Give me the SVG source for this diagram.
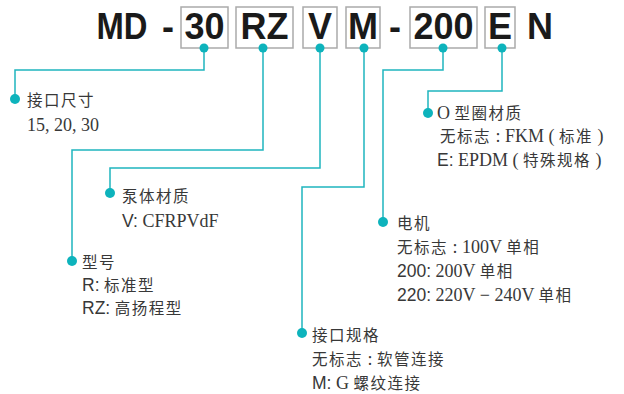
<svg xmlns="http://www.w3.org/2000/svg" width="624" height="394" viewBox="0 0 624 394">
<style>
.box{fill:none;stroke:#aaaaaa;stroke-width:1.5}
.code{font-family:"Liberation Sans",Arial,sans-serif;font-weight:bold;font-size:36px;fill:#1a1a1a;text-anchor:middle}
.ln{fill:none;stroke:#1fb5be;stroke-width:1.5}
.dot{fill:#0db3bc}
.t{font-family:"Liberation Serif","Noto Sans CJK SC",serif;font-size:18px;fill:#383838}
.cn{font-family:"Noto Sans CJK SC",sans-serif;font-size:15.5px;letter-spacing:1.5px}
.s{font-family:"Liberation Sans",sans-serif;font-size:17.5px}
</style>
<rect width="624" height="394" fill="#fff"/>
<g id="code">
<text class="code" x="122" y="39" textLength="51" lengthAdjust="spacingAndGlyphs">MD</text>
<text class="code" x="168" y="39">-</text>
<rect class="box" x="181" y="7" width="47" height="41"/>
<text class="code" x="204.5" y="39">30</text>
<rect class="box" x="236" y="7" width="57" height="41"/>
<text class="code" x="264.5" y="39">RZ</text>
<rect class="box" x="303" y="7" width="34" height="41"/>
<text class="code" x="320" y="39">V</text>
<rect class="box" x="346" y="7" width="34" height="41"/>
<text class="code" x="363" y="39">M</text>
<text class="code" x="395" y="39">-</text>
<rect class="box" x="410" y="7" width="67" height="41"/>
<text class="code" x="443.5" y="39">200</text>
<rect class="box" x="485" y="7" width="30" height="41"/>
<text class="code" x="500" y="39">E</text>
<text class="code" x="540" y="39">N</text>
</g>
<g id="connectors">
<path class="ln" d="M204,48 V70 H15 V99"/>
<path class="ln" d="M263,48 V150 H72 V261"/>
<path class="ln" d="M320,48 V168 H110 V193"/>
<path class="ln" d="M364,48 V187 H302 V333"/>
<path class="ln" d="M443,48 V70 H383 V222"/>
<path class="ln" d="M502,48 V91 H428 V113"/>
<circle class="dot" cx="204" cy="48" r="4.5"/>
<circle class="dot" cx="263" cy="48" r="4.5"/>
<circle class="dot" cx="320" cy="48" r="4.5"/>
<circle class="dot" cx="364" cy="48" r="4.5"/>
<circle class="dot" cx="443" cy="48" r="4.5"/>
<circle class="dot" cx="502" cy="48" r="4.5"/>
</g>
<g id="size">
<circle class="dot" cx="15" cy="99" r="5"/>
<text class="t" x="27" y="106"><tspan class="cn">接口尺寸</tspan></text>
<text class="t" x="27" y="131">15, 20, 30</text>
</g>
<g id="material">
<circle class="dot" cx="110" cy="193" r="5"/>
<text class="t" x="122" y="202"><tspan class="cn">泵体材质</tspan></text>
<text class="t" x="122" y="227"><tspan class="s">V:</tspan> CFRPVdF</text>
</g>
<g id="type">
<circle class="dot" cx="72" cy="261" r="5"/>
<text class="t" x="82" y="268"><tspan class="cn">型号</tspan></text>
<text class="t" x="82" y="291"><tspan class="s">R:</tspan> <tspan class="cn">标准型</tspan></text>
<text class="t" x="82" y="314"><tspan class="s">RZ:</tspan> <tspan class="cn">高扬程型</tspan></text>
</g>
<g id="port">
<circle class="dot" cx="302" cy="333" r="5"/>
<text class="t" x="312" y="341"><tspan class="cn">接口规格</tspan></text>
<text class="t" x="312" y="365"><tspan class="cn">无标志</tspan> : <tspan class="cn">软管连接</tspan></text>
<text class="t" x="312" y="389"><tspan class="s">M:</tspan> G <tspan class="cn">螺纹连接</tspan></text>
</g>
<g id="motor">
<circle class="dot" cx="383" cy="222" r="5"/>
<text class="t" x="397" y="229"><tspan class="cn">电机</tspan></text>
<text class="t" x="397" y="253"><tspan class="cn">无标志</tspan> : 100V <tspan class="cn">单相</tspan></text>
<text class="t" x="397" y="277"><tspan class="s">200:</tspan> 200V <tspan class="cn">单相</tspan></text>
<text class="t" x="397" y="301"><tspan class="s">220:</tspan> 220V − 240V <tspan class="cn">单相</tspan></text>
</g>
<g id="oring">
<circle class="dot" cx="428" cy="113" r="5"/>
<text class="t" x="437" y="119">O <tspan class="cn">型圈材质</tspan></text>
<text class="t" x="440" y="142"><tspan class="cn">无标志</tspan> : FKM ( <tspan class="cn">标准</tspan> )</text>
<text class="t" x="437" y="166"><tspan class="s">E:</tspan> EPDM ( <tspan class="cn">特殊规格</tspan> )</text>
</g>
</svg>
